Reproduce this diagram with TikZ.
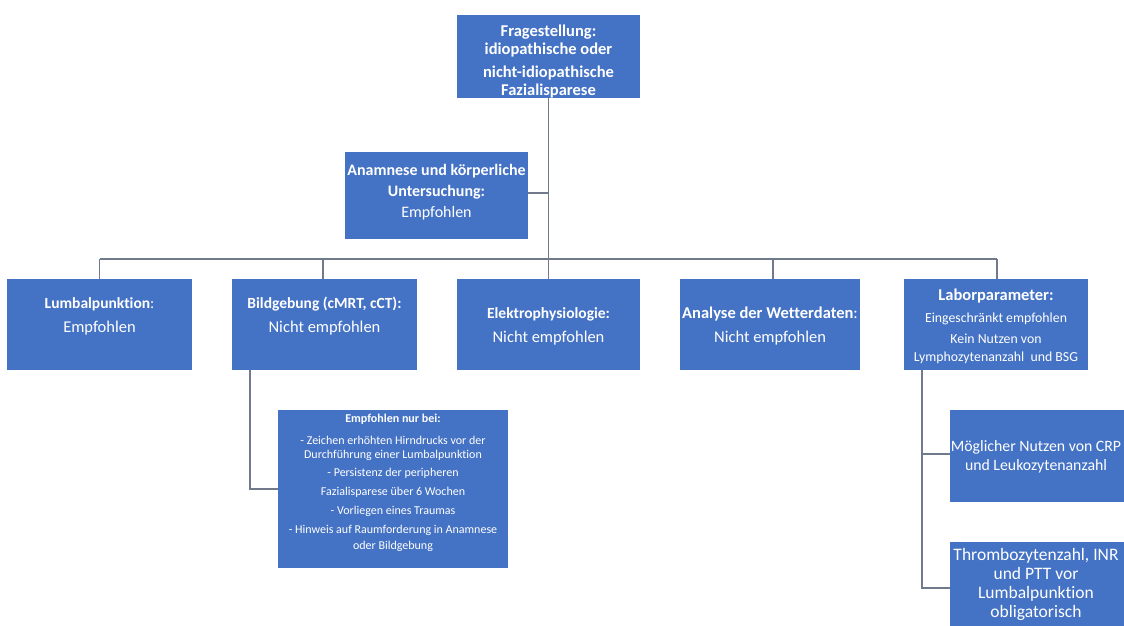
\documentclass[tikz,border=0pt]{standalone}
\usepackage{fontspec}
\setmainfont{Carlito}[Ligatures=NoCommon]
\definecolor{boxblue}{RGB}{68,114,196}
\definecolor{linegray}{RGB}{112,122,138}
\begin{document}
\begin{tikzpicture}[x=1pt,y=-1pt,
  box/.style={fill=boxblue,draw=none,inner sep=0pt,rectangle},
  txt/.style={text=white,align=center,inner sep=0pt},
  conn/.style={draw=linegray,line width=1.3pt},
  mid/.style={font=\fontsize{13.8}{18}\selectfont},
  hd/.style={font=\fontsize{15.5}{24}\selectfont}]
\useasboundingbox (0,0) rectangle (1124,626);
\clip (0,0) rectangle (1124,626);
\fill[white] (0,0) rectangle (1124,626);

% boxes
\node[box,minimum width=183pt,minimum height=83pt] (top) at (548.5,56.5) {};
\node[box,minimum width=183pt,minimum height=87pt] (anam) at (436.5,195.5) {};
\node[box,minimum width=185pt,minimum height=91pt] (lumb) at (99.5,324.5) {};
\node[box,minimum width=185pt,minimum height=91pt] (bild) at (324.5,324.5) {};
\node[box,minimum width=183pt,minimum height=91pt] (elek) at (548.5,324.5) {};
\node[box,minimum width=180pt,minimum height=91pt] (wett) at (770,324.5) {};
\node[box,minimum width=184pt,minimum height=91pt] (labor) at (996,324.5) {};
\node[box,minimum width=230pt,minimum height=158pt] (emp) at (393,489) {};
\node[box,minimum width=186pt,minimum height=92pt] (mbox) at (1043,456) {};
\node[box,minimum width=186pt,minimum height=92pt] (tbox) at (1043,588) {};

% texts
\node[txt,font=\fontsize{16.5}{18}\selectfont\bfseries] (ttop) at (548.5,61.5)
  {Fragestellung:\\idiopathische oder\\[5pt]nicht-idiopathische\\Fazialisparese};
\node[txt,font=\fontsize{16}{21}\selectfont] (tanam) at (436.5,192)
  {\textbf{Anamnese und körperliche}\\\textbf{Untersuchung:}\\Empfohlen};
\node[txt,hd] (tlumb) at (99.5,316)
  {\textbf{Lumbalpunktion}:\\\fontsize{16.5}{24}\selectfont Empfohlen};
\node[txt,hd] (tbild) at (324.5,316)
  {\textbf{Bildgebung (cMRT, cCT):}\\\fontsize{16.5}{24}\selectfont Nicht empfohlen};
\node[txt,hd] (telek) at (548.5,326)
  {\textbf{Elektrophysiologie:}\\\fontsize{16.5}{24}\selectfont Nicht empfohlen};
\node[txt,hd] (twett) at (770,326)
  {\fontsize{16.5}{24}\selectfont\textbf{Analyse der Wetterdaten}:\\\fontsize{16.5}{24}\selectfont Nicht empfohlen};
\node[txt,font=\fontsize{16.5}{18}\selectfont\bfseries] (tlab1) at (996,296) {Laborparameter:};
\node[txt,mid] (tlab2) at (996,319) {Eingeschränkt empfohlen};
\node[txt,mid] (tlab3) at (996,349) {Kein Nutzen von\\Lymphozytenanzahl\ \ und BSG};
\node[txt,font=\fontsize{12}{14}\selectfont] (temp) at (393,483)
  {\textbf{Empfohlen nur bei:}\\[8pt]
   - Zeichen erhöhten Hirndrucks vor der\\Durchführung einer Lumbalpunktion\\[4pt]
   - Persistenz der peripheren\\[5pt]Fazialisparese über 6 Wochen\\[5pt]
   - Vorliegen eines Traumas\\[5pt]
   - Hinweis auf Raumforderung in Anamnese\\[2pt]oder Bildgebung};
\node[txt,font=\fontsize{15.8}{19}\selectfont] (tm) at (1036,457) {Möglicher Nutzen von CRP\\und Leukozytenanzahl};
\node[txt,font=\fontsize{17.5}{19}\selectfont] (tt) at (1036,584) {Thrombozytenzahl, INR\\und PTT vor\\Lumbalpunktion\\obligatorisch};

% connectors
\coordinate (busL) at (100,259);
\coordinate (busR) at (997,259);
\coordinate (bd) at (250,370);
\coordinate (ld) at (922,370);
\draw[conn] (top.south) -- (top.south |- busL);
\draw[conn] (anam.east |- 0,193) -- (548.5,193);
\draw[conn] (busL) -- (busR);
\draw[conn] (lumb.north) -- (lumb.north |- busL);
\draw[conn] ([xshift=-1.5pt]bild.north) -- ([xshift=-1.5pt]bild.north |- busL);
\draw[conn] (elek.north) -- (elek.north |- busL);
\draw[conn] ([xshift=3pt]wett.north) -- ([xshift=3pt]wett.north |- busL);
\draw[conn] ([xshift=1pt]labor.north) -- ([xshift=1pt]labor.north |- busL);
\draw[conn] (bd) |- (emp.west);
\draw[conn] (ld) |- ([yshift=2pt]mbox.west);
\draw[conn] (ld) |- (tbox.west);
\end{tikzpicture}
\end{document}
